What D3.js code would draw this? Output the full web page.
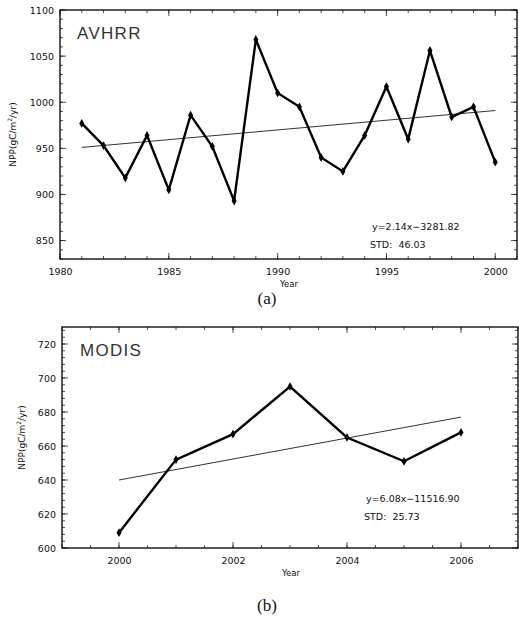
<!DOCTYPE html>
<html>
<head>
<meta charset="utf-8">
<script src="https://cdn.jsdelivr.net/npm/d3@7"></script>
<style>
  body { margin: 0; background: #fff; }
  svg { display: block; }
  .tick text { font-family: "DejaVu Sans", sans-serif; font-size: 9.5px; fill: #111; }
</style>
</head>
<body>
<svg id="chart" width="519" height="624"></svg>
<script>
// ---- data ----
var avhrrYears = d3.range(1981, 2001);
var avhrrNpp = [977, 953, 918, 964, 905, 986, 952, 893, 1068, 1010,
                995, 940, 925, 964, 1017, 960, 1056, 984, 995, 935];
var avhrrTrend = [[1981, 951], [2000, 991]];
var avhrrYTicks = [850, 900, 950, 1000, 1050, 1100];
var avhrrXTicks = [1980, 1985, 1990, 1995, 2000];

var modisYears = [2000, 2001, 2002, 2003, 2004, 2005, 2006];
var modisNpp = [609, 652, 667, 695, 665, 651, 668];
var modisTrend = [[2000, 640], [2006, 677]];
var modisYTicks = [600, 620, 640, 660, 680, 700, 720];
var modisXTicks = [2000, 2002, 2004, 2006];

var svg = d3.select("#chart");

function drawPanel(p) {
    var x = d3.scaleLinear().domain(p.xDomain).range([p.left, p.right]);
    var y = d3.scaleLinear().domain(p.yDomain).range([p.bottom, p.top]);
    var g = svg.append("g");

    // minor ticks, all four sides, pointing inward
    var xMinor = d3.range(p.xDomain[0], p.xDomain[1] + 0.001, p.xMinor);
    var yMinor = d3.range(p.yDomain[0], p.yDomain[1] + 0.001, p.yMinor);
    var tickG = g.append("g").attr("stroke", "#222").attr("stroke-width", 0.8);
    xMinor.forEach(function (v) {
        tickG.append("line").attr("x1", x(v)).attr("x2", x(v)).attr("y1", p.bottom).attr("y2", p.bottom - 3);
        tickG.append("line").attr("x1", x(v)).attr("x2", x(v)).attr("y1", p.top).attr("y2", p.top + 3);
    });
    yMinor.forEach(function (v) {
        tickG.append("line").attr("x1", p.left).attr("x2", p.left + 3).attr("y1", y(v)).attr("y2", y(v));
        tickG.append("line").attr("x1", p.right).attr("x2", p.right - 3).attr("y1", y(v)).attr("y2", y(v));
    });
    p.xTicks.forEach(function (v) {
        tickG.append("line").attr("x1", x(v)).attr("x2", x(v)).attr("y1", p.bottom).attr("y2", p.bottom - 6);
        tickG.append("line").attr("x1", x(v)).attr("x2", x(v)).attr("y1", p.top).attr("y2", p.top + 6);
    });
    p.yTicks.forEach(function (v) {
        tickG.append("line").attr("x1", p.left).attr("x2", p.left + 6).attr("y1", y(v)).attr("y2", y(v));
        tickG.append("line").attr("x1", p.right).attr("x2", p.right - 6).attr("y1", y(v)).attr("y2", y(v));
    });

    // tick labels via d3 axes (tick lines hidden, drawn above)
    g.append("g")
        .attr("transform", "translate(0," + p.bottom + ")")
        .call(d3.axisBottom(x).tickValues(p.xTicks).tickFormat(d3.format("d")).tickSize(0).tickPadding(9))
        .call(function (a) { a.select(".domain").remove(); });
    g.append("g")
        .attr("transform", "translate(" + p.left + ",0)")
        .call(d3.axisLeft(y).tickValues(p.yTicks).tickFormat(d3.format("d")).tickSize(0).tickPadding(6))
        .call(function (a) { a.select(".domain").remove(); });

    // frame
    g.append("rect")
        .attr("x", p.left).attr("y", p.top)
        .attr("width", p.right - p.left).attr("height", p.bottom - p.top)
        .attr("fill", "none").attr("stroke", "#111").attr("stroke-width", 1.4);

    // trend line
    g.append("path")
        .datum(p.trend)
        .attr("d", d3.line().x(function (d) { return x(d[0]); }).y(function (d) { return y(d[1]); }))
        .attr("fill", "none").attr("stroke", "#333").attr("stroke-width", 1);

    // data line
    var pts = p.years.map(function (yr, i) { return [yr, p.values[i]]; });
    g.append("path")
        .datum(pts)
        .attr("d", d3.line().x(function (d) { return x(d[0]); }).y(function (d) { return y(d[1]); }))
        .attr("fill", "none").attr("stroke", "#000").attr("stroke-width", 2.4)
        .attr("stroke-linejoin", "miter");
    g.selectAll(".pt").data(pts).enter().append("path")
        .attr("transform", function (d) { return "translate(" + x(d[0]) + "," + y(d[1]) + ")"; })
        .attr("d", d3.symbol().type(d3.symbolDiamond).size(22))
        .attr("fill", "#000");

    // labels
    g.append("text")
        .attr("x", p.left + p.nameDx).attr("y", p.top + 29)
        .attr("font-family", "Liberation Sans, Arial, sans-serif")
        .attr("font-size", 17).attr("letter-spacing", 1.3).attr("fill", "#333")
        .text(p.name);
    g.append("text")
        .attr("x", p.eqX).attr("y", p.eqY)
        .attr("font-family", "DejaVu Sans, sans-serif").attr("font-size", 9.5).attr("fill", "#111")
        .text(p.eq);
    g.append("text")
        .attr("x", p.eqX - 2).attr("y", p.eqY + 18)
        .attr("font-family", "DejaVu Sans, sans-serif").attr("font-size", 9.5).attr("fill", "#111")
        .attr("xml:space", "preserve")
        .text(p.std);
    g.append("text")
        .attr("x", p.xTitleX).attr("y", p.bottom + 28)
        .attr("text-anchor", "middle")
        .attr("font-family", "DejaVu Sans, sans-serif").attr("font-size", 8.5).attr("fill", "#111")
        .text("Year");
    var yt = g.append("text")
        .attr("transform", "translate(" + p.yTitleX + "," + ((p.top + p.bottom) / 2) + ") rotate(-90)")
        .attr("text-anchor", "middle")
        .attr("font-family", "DejaVu Sans, sans-serif").attr("font-size", 9).attr("fill", "#111");
    yt.append("tspan").text("NPP(gC/m");
    yt.append("tspan").attr("font-size", 6).attr("dy", -4).text("2");
    yt.append("tspan").attr("dy", 4).text("/yr)");

    svg.append("text")
        .attr("x", 267).attr("y", p.captionY)
        .attr("text-anchor", "middle")
        .attr("font-family", "Liberation Serif, Times New Roman, serif").attr("font-size", 17).attr("fill", "#111")
        .text(p.caption);
}

drawPanel({
    left: 60, right: 517, top: 10, bottom: 259,
    xDomain: [1980, 2001], yDomain: [830, 1100],
    xTicks: avhrrXTicks, yTicks: avhrrYTicks, xMinor: 1, yMinor: 10,
    years: avhrrYears, values: avhrrNpp, trend: avhrrTrend,
    name: "AVHRR", nameDx: 17,
    eq: "y=2.14x\u22123281.82", std: "STD:  46.03", eqX: 372, eqY: 230,
    xTitleX: 289, yTitleX: 16, caption: "(a)", captionY: 304
});

drawPanel({
    left: 62, right: 518, top: 327, bottom: 548,
    xDomain: [1999, 2007], yDomain: [600, 730],
    xTicks: modisXTicks, yTicks: modisYTicks, xMinor: 0.5, yMinor: 4,
    years: modisYears, values: modisNpp, trend: modisTrend,
    name: "MODIS", nameDx: 18,
    eq: "y=6.08x\u221211516.90", std: "STD:  25.73", eqX: 366, eqY: 502,
    xTitleX: 291, yTitleX: 25, caption: "(b)", captionY: 611
});
</script>
</body>
</html>
